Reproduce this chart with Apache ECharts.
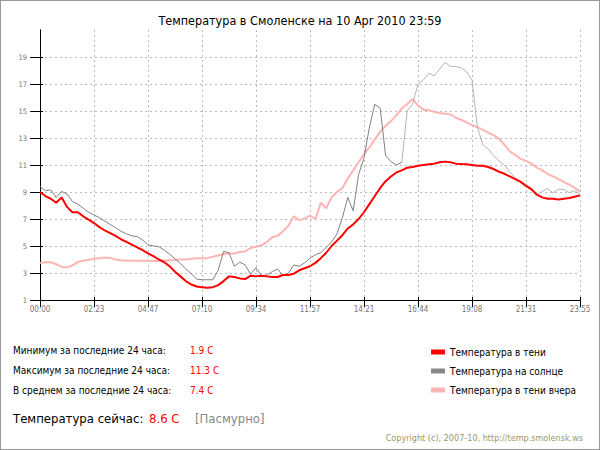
<!DOCTYPE html>
<html>
<head>
<meta charset="utf-8">
<script src="https://cdn.jsdelivr.net/npm/echarts@6/dist/echarts.min.js"></script>
<style>
html,body{margin:0;padding:0;background:#fff;}
#c{position:absolute;left:0;top:0;width:600px;height:450px;}
#b{position:absolute;left:0;top:0;width:600px;height:450px;box-sizing:border-box;border:1px solid #999;pointer-events:none;}
</style>
</head>
<body>
<div id="c"></div>
<div id="b"></div>
<script>
// X tick labels (11 ticks over 100 sample steps)
const timeLabels = ['00:00','02:23','04:47','07:10','09:34','11:57','14:21','16:44','19:08','21:31','23:55'];
const yTicks = [1,3,5,7,9,11,13,15,17,19];

// Temperature in shade (today)
const shade = [9.0,8.7,8.5,8.2,8.6,7.9,7.5,7.5,7.2,6.95,
  6.7,6.4,6.15,5.95,5.75,5.5,5.3,5.1,4.9,4.7,
  4.45,4.25,4.0,3.8,3.5,3.1,2.75,2.4,2.15,2.0,
  1.95,1.9,1.95,2.1,2.4,2.75,2.7,2.6,2.55,2.8,
  2.75,2.8,2.75,2.7,2.7,2.85,2.85,2.95,3.2,3.35,
  3.5,3.75,4.1,4.5,5.0,5.4,5.8,6.3,6.6,7.0,
  7.5,8.1,8.7,9.3,9.8,10.15,10.45,10.6,10.8,10.85,
  10.95,11.0,11.05,11.1,11.2,11.25,11.2,11.1,11.07,11.05,
  11.0,10.95,10.95,10.85,10.7,10.5,10.35,10.15,9.95,9.75,
  9.45,9.2,8.8,8.6,8.5,8.5,8.45,8.5,8.55,8.65,
  8.75];

// Temperature in the sun
const sun = [9.4,9.1,9.15,8.6,9.05,8.85,8.3,8.1,7.8,7.5,
  7.3,7.1,6.85,6.6,6.35,6.1,5.9,5.75,5.7,5.45,
  5.1,5.0,4.95,4.7,4.4,4.05,3.7,3.3,2.95,2.55,
  2.5,2.5,2.5,3.2,4.6,4.5,3.5,3.8,3.6,2.9,
  3.4,2.8,2.85,3.1,3.3,2.8,3.0,3.6,3.5,3.75,
  4.1,4.35,4.5,4.9,5.3,5.9,7.1,8.6,7.6,10.3,
  11.5,13.8,15.5,15.2,11.7,11.25,11.0,11.2,15.0,15.5,
  17.0,17.3,17.8,17.6,18.1,18.6,18.3,18.3,18.2,17.9,
  17.3,13.8,12.5,12.2,11.7,11.3,11.0,10.5,10.05,9.8,
  9.55,9.3,8.8,9.05,9.25,8.95,9.2,9.2,8.95,9.1,
  8.85];
const sunSplit = 67;

// Temperature in shade yesterday
const yesterday = [3.75,3.8,3.8,3.65,3.45,3.42,3.55,3.82,3.92,3.97,
  4.05,4.1,4.15,4.12,4.0,3.95,3.92,3.9,3.9,3.9,
  3.9,3.88,3.9,3.9,3.95,3.97,4.0,4.0,4.05,4.1,
  4.1,4.1,4.2,4.3,4.4,4.45,4.45,4.55,4.6,4.85,
  4.95,5.05,5.3,5.65,5.75,6.1,6.5,7.2,6.9,7.05,
  7.25,7.0,8.2,7.8,8.6,9.0,9.3,10.0,10.6,11.2,
  11.8,12.3,12.9,13.45,13.9,14.25,14.7,15.2,15.5,15.9,
  15.4,15.1,15.05,14.95,14.85,14.8,14.75,14.5,14.35,14.15,
  13.95,13.8,13.6,13.4,13.2,12.95,12.5,12.0,11.75,11.45,
  11.3,11.1,10.8,10.6,10.35,10.15,9.95,9.75,9.55,9.3,
  9.05];

const seriesNames = ['Температура в тени','Температура на солнце','Температура в тени вчера'];
const statLabels = ['Минимум за последние 24 часа:','Максимум за последние 24 часа:','В среднем за последние 24 часа:'];
const statValues = ['1.9 C','11.3 C','7.4 C'];
const titleText = 'Температура в Смоленске на 10 Apr 2010 23:59';
const nowLabel = 'Температура сейчас:';
const nowValue = '8.6 C';
const nowWeather = '[Пасмурно]';
const copyright = 'Copyright (c), 2007-10, http://temp.smolensk.ws';

const xTickVals = timeLabels.map((_, i) => i * 10);
const toPairs = (arr, from, to) => arr.slice(from, to).map((v, k) => [from + k, v]);

const FONT = '"DejaVu Sans Condensed", "DejaVu Sans", sans-serif';

const chart = echarts.init(document.getElementById('c'), null, {renderer: 'svg'});

const graphics = [];
statLabels.forEach((t, i) => {
  graphics.push({type: 'text', left: 13, top: 345 + i * 20, style: {text: t, fill: '#000', font: '10px ' + FONT}});
  graphics.push({type: 'text', left: 190, top: 345 + i * 20, style: {text: statValues[i], fill: '#ff0000', font: '10px ' + FONT}});
});
graphics.push({type: 'text', left: 13, top: 412, style: {text: nowLabel, fill: '#000', font: '13px ' + FONT}});
graphics.push({type: 'text', left: 149, top: 412, style: {text: nowValue, fill: '#ff0000', font: '13px ' + FONT}});
graphics.push({type: 'text', left: 195, top: 412, style: {text: nowWeather, fill: '#888', font: '13px ' + FONT}});
graphics.push({type: 'text', right: 17, top: 433, style: {text: copyright, fill: '#999966', font: '9px ' + FONT}});

chart.setOption({
  animation: false,
  backgroundColor: '#fff',
  title: {text: titleText, left: 'center', top: 9,
    textStyle: {fontFamily: FONT, fontSize: 12.5, fontWeight: 'normal', color: '#000'}},
  legend: {
    data: seriesNames, orient: 'vertical', left: 426, top: 341, itemGap: 7,
    itemWidth: 14, itemHeight: 5, icon: 'rect', selectedMode: false,
    textStyle: {fontFamily: FONT, fontSize: 10, color: '#000', lineHeight: 12}
  },
  grid: {left: 40, right: 20, top: 30, bottom: 150},
  xAxis: [{
    type: 'value', min: 0, max: 100, interval: 10,
    axisLine: {show: true, lineStyle: {color: '#000', width: 1}},
    axisTick: {show: true, length: 7, customValues: xTickVals, lineStyle: {color: '#000'}},
    axisLabel: {customValues: xTickVals, margin: 5, color: '#777', fontSize: 8, fontFamily: FONT,
      formatter: v => timeLabels[Math.round(v / 10)]},
    splitLine: {show: true, lineStyle: {color: '#bbb', type: [2, 3]}}
  }, {
    type: 'value', min: 0, max: 100, interval: 10, position: 'bottom',
    axisLine: {show: false}, axisLabel: {show: false}, splitLine: {show: false},
    axisTick: {show: true, inside: true, length: 3, customValues: xTickVals, lineStyle: {color: '#000'}}
  }],
  yAxis: [{
    type: 'value', min: 1, max: 21, interval: 2,
    axisLine: {show: true, lineStyle: {color: '#000', width: 1}},
    axisTick: {show: true, length: 10, customValues: yTicks, lineStyle: {color: '#000'}},
    axisLabel: {customValues: yTicks, margin: 13, color: '#777', fontSize: 7.5, fontFamily: FONT},
    splitLine: {show: true, lineStyle: {color: '#bbb', type: [2, 3]}}
  }, {
    type: 'value', min: 1, max: 21, interval: 2, position: 'right',
    axisLine: {show: true, lineStyle: {color: '#000', width: 1}},
    axisTick: {show: false}, axisLabel: {show: false}, splitLine: {show: false}
  }, {
    type: 'value', min: 1, max: 21, interval: 2, position: 'left',
    axisLine: {show: false}, axisLabel: {show: false}, splitLine: {show: false},
    axisTick: {show: true, inside: true, length: 3, customValues: yTicks, lineStyle: {color: '#000'}}
  }],
  graphic: graphics,
  series: [
    {name: seriesNames[2], type: 'line', data: toPairs(yesterday, 0, yesterday.length), symbol: 'none',
      color: '#ffb4b4', lineStyle: {width: 2, color: '#ffb4b4'}, z: 2},
    {name: seriesNames[1], type: 'line', data: toPairs(sun, 0, sunSplit + 1), symbol: 'none',
      color: '#888888', lineStyle: {width: 1, color: '#808080'}, z: 3},
    {name: 'sun-late', type: 'line', data: toPairs(sun, sunSplit, sun.length), symbol: 'none',
      color: '#b4b4b4', lineStyle: {width: 1, color: '#b4b4b4'}, z: 3},
    {name: seriesNames[0], type: 'line', data: toPairs(shade, 0, shade.length), symbol: 'none',
      color: '#ff0000', lineStyle: {width: 2, color: '#ff0000'}, z: 4}
  ]
});
</script>
</body>
</html>
